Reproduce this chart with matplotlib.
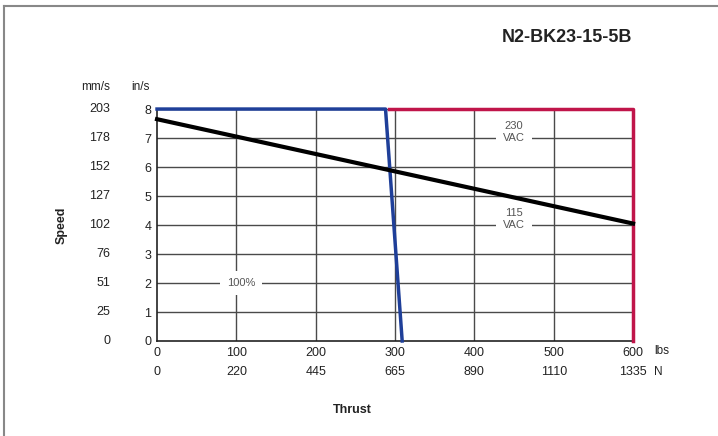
import matplotlib.pyplot as plt
from matplotlib.lines import Line2D
from matplotlib.transforms import blended_transform_factory

plt.rcParams['font.family'] = ['Liberation Sans', 'DejaVu Sans']

# axis ticks
thrust_lbs = [0, 100, 200, 300, 400, 500, 600]
thrust_n = [0, 220, 445, 665, 890, 1110, 1335]
speed_ins = [0, 1, 2, 3, 4, 5, 6, 7, 8]
speed_mms = [0, 25, 51, 76, 102, 127, 152, 178, 203]

# curves (thrust lbs, speed in/s)
duty_x = [0, 288, 309]
duty_y = [8, 8, 0]
vac230_x = [292, 600, 600]
vac230_y = [8, 8, 0]
vac115_x = [0, 600]
vac115_y = [7.65, 4.05]

fig = plt.figure(figsize=(7.18, 4.36), dpi=100)
ax = fig.add_axes([0.2187, 0.2179, 0.663, 0.532])

grid_c = '#4a4a4a'
for v in thrust_lbs[1:]:
    ax.axvline(v, color=grid_c, lw=1, zorder=1)
for v in speed_ins[1:]:
    ax.axhline(v, color=grid_c, lw=1, zorder=1)

ax.plot(vac230_x, vac230_y, color='#c0154a', lw=2.5, clip_on=False, zorder=3)
ax.plot(duty_x, duty_y, color='#1f3f99', lw=2.5, clip_on=False, zorder=4)
ax.plot(vac115_x, vac115_y, color='black', lw=3, clip_on=False, zorder=5)

ax.set_xlim(0, 600)
ax.set_ylim(0, 8)
for s in ['top', 'right']:
    ax.spines[s].set_visible(False)
for s in ['left', 'bottom']:
    ax.spines[s].set_color('#222222')
    ax.spines[s].set_linewidth(1.2)

ax.tick_params(length=0, labelsize=9, colors='#222222', pad=4)
ax.set_xticks(thrust_lbs)
ax.set_xticklabels([str(v) for v in thrust_lbs])
ax.set_yticks(speed_ins)
ax.set_yticklabels([str(v) for v in speed_ins])

tr_y = blended_transform_factory(ax.transAxes, ax.transData)
tr_x = blended_transform_factory(ax.transData, ax.transAxes)
for v, mm in zip(speed_ins, speed_mms):
    ax.text(-0.098, v, str(mm), transform=tr_y, ha='right', va='center',
            fontsize=9, color='#222222')
for v, n in zip(thrust_lbs, thrust_n):
    ax.text(v, -0.135, str(n), transform=tr_x, ha='center', va='center',
            fontsize=9, color='#222222')

ax.text(-0.098, 1.095, 'mm/s', transform=ax.transAxes, ha='right', va='center',
        fontsize=8.5, color='#222222')
ax.text(-0.015, 1.095, 'in/s', transform=ax.transAxes, ha='right', va='center',
        fontsize=8.5, color='#222222')
ax.text(1.045, -0.045, 'lbs', transform=ax.transAxes, ha='left', va='center',
        fontsize=8.5, color='#222222')
ax.text(1.045, -0.135, 'N', transform=ax.transAxes, ha='left', va='center',
        fontsize=8.5, color='#222222')

box = dict(facecolor='white', edgecolor='none', pad=5)
ax.text(450, 7.22, '230\nVAC', ha='center', va='center', fontsize=8,
        color='#555555', bbox=box, linespacing=1.25, zorder=2)
ax.text(450, 4.2, '115\nVAC', ha='center', va='center', fontsize=8,
        color='#555555', bbox=box, linespacing=1.25, zorder=2)
ax.text(106, 2.0, '100%', ha='center', va='center', fontsize=8,
        color='#555555', bbox=box, zorder=2)

fig.text(62 / 718, 1 - 225 / 436, 'Speed', rotation=90, ha='center', va='center',
         fontsize=9, fontweight='bold', color='#222222')
fig.text(352 / 718, 1 - 410 / 436, 'Thrust', ha='center', va='center',
         fontsize=9, fontweight='bold', color='#222222')
fig.text(567 / 718, 1 - 37 / 436, 'N2-BK23-15-5B', ha='center', va='center',
         fontsize=13, fontweight='bold', color='#222222')

# frame around the sheet (top and left only)
fig.add_artist(Line2D([4 / 718, 4 / 718], [0, 1 - 6 / 436], transform=fig.transFigure,
                      color='#888888', lw=1.5))
fig.add_artist(Line2D([4 / 718, 1], [1 - 6 / 436, 1 - 6 / 436], transform=fig.transFigure,
                      color='#888888', lw=1.5))

fig.savefig('out.png', dpi=100)
